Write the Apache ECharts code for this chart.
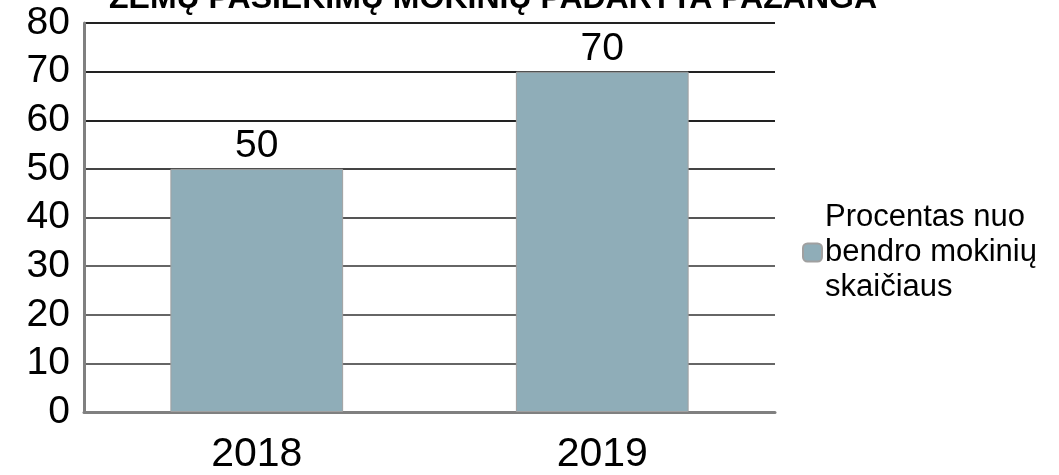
<!DOCTYPE html>
<html>
<head>
<meta charset="utf-8">
<script src="https://cdn.jsdelivr.net/npm/echarts@6/dist/echarts.min.js"></script>
<style>
  html, body { margin: 0; padding: 0; background: #fff; }
  #main { width: 1059px; height: 475px; }
</style>
</head>
<body>
<div id="main"></div>
<script>
// duomenys
var title = 'ŽEMŲ PASIEKIMŲ MOKINIŲ PADARYTA PAŽANGA';
var years = ['2018', '2019'];
var seriesName = 'Procentas nuo\nbendro mokinių\nskaičiaus';
var values = [50, 70];

var font = '"Liberation Sans", Arial, sans-serif';
var myChart = echarts.init(document.getElementById('main'));

var option = {
  backgroundColor: '#fff',
  animation: false,
  textStyle: { fontFamily: font },
  title: {
    text: title,
    left: 488,
    textAlign: 'center',
    top: -22,
    textStyle: { fontFamily: font, fontWeight: 'bold', fontSize: 32, color: '#000' }
  },
  legend: {
    data: [seriesName],
    orient: 'vertical',
    left: 797,
    top: 195,
    itemWidth: 19,
    itemHeight: 18,
    itemGap: 0,
    textStyle: { fontFamily: font, fontSize: 31, color: '#000', lineHeight: 35, padding: [0, 0, 0, -2] }
  },
  grid: { left: 84, right: 284, top: 23, bottom: 63 },
  xAxis: {
    type: 'category',
    data: years,
    axisLine: { lineStyle: { color: '#808080', width: 3 } },
    axisTick: { show: false },
    axisLabel: { fontFamily: font, fontSize: 41, color: '#000', margin: 22 }
  },
  yAxis: {
    type: 'value',
    min: 0,
    max: 80,
    interval: 10,
    axisLine: { show: true, lineStyle: { color: '#808080', width: 3 } },
    axisTick: { show: false },
    splitLine: {
      lineStyle: {
        color: ['#777', '#666', '#666', '#666', '#555', '#444', '#222', '#222', '#222'],
        width: 2
      }
    },
    axisLabel: { fontFamily: font, fontSize: 39, color: '#000', margin: 14 }
  },
  series: [{
    name: seriesName,
    type: 'bar',
    data: values,
    barWidth: '50%',
    itemStyle: { color: '#8fadb8', borderColor: '#a0a0a0', borderWidth: 1 },
    label: {
      show: true,
      position: 'top',
      distance: 3,
      fontFamily: font,
      fontSize: 39,
      color: '#000'
    }
  }]
};

myChart.setOption(option);
</script>
</body>
</html>
